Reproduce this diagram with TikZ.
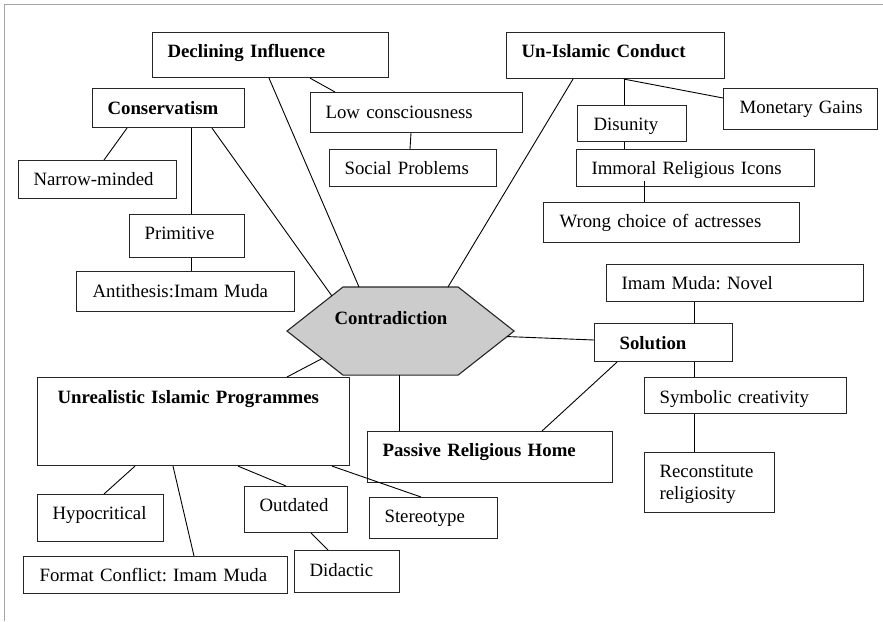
\documentclass[tikz,border=0pt]{standalone}
\usepackage{fontspec}
\setmainfont{Liberation Serif}
\usetikzlibrary{calc,backgrounds}
\frenchspacing
\tikzset{
  bx/.style={draw=black!85, line width=1.1pt, inner sep=0pt, anchor=north west, align=left,
    font=\fontsize{18.8}{22}\selectfont\frenchspacing},
  bb/.style={bx, font=\fontsize{18.8}{22}\selectfont\frenchspacing\bfseries},
  ln/.style={line width=0.9pt, black},
  frame/.style={line width=1pt, gray!70}
}
\begin{document}
\begin{tikzpicture}[x=1pt,y=-1pt]
\useasboundingbox (0,0) rectangle (883,621);
\draw[frame] (4,621) -- (4,4) -- (883,4);

% nodes
\node[bb, text width=236pt, text height=25.3pt, text depth=19.7pt] (di) at (152,32) {\hspace*{15pt}\mbox{Declining Influence}};
\node[bb, text width=152pt, text height=26pt, text depth=13pt] (cons) at (92,88) {\hspace*{15pt}\mbox{Conservatism}};
\node[bx, text width=212pt, text height=26.3pt, text depth=13.7pt] (lc) at (310,92) {\hspace*{15pt}\mbox{Low consciousness}};
\node[bx, text width=167pt, text height=25pt, text depth=12pt] (sp) at (329,149) {\hspace*{15pt}\mbox{Social Problems}};
\node[bx, text width=158pt, text height=25pt, text depth=13pt] (nm) at (18,160) {\hspace*{15pt}\mbox{Narrow-minded}};
\node[bb, text width=218pt, text height=25.3pt, text depth=20.7pt] (uic) at (506,32) {\hspace*{15pt}\mbox{Un-Islamic Conduct}};
\node[bx, text width=154pt, text height=25.3pt, text depth=15.7pt] (mg) at (723,88) {\hspace*{16pt}\mbox{Monetary Gains}};
\node[bx, text width=109pt, text height=25pt, text depth=11pt] (dis) at (577,105) {\hspace*{16pt}\mbox{Disunity}};
\node[bx, text width=238pt, text height=25.3pt, text depth=11.7pt] (imm) at (576,149) {\hspace*{15pt}\mbox{Immoral Religious Icons}};
\node[bx, text width=256pt, text height=25.3pt, text depth=14.7pt] (wr) at (543,202) {\hspace*{16pt}\mbox{Wrong choice of actresses}};
\node[bx, text width=115pt, text height=25.3pt, text depth=17.7pt] (prim) at (129,214) {\hspace*{15pt}\mbox{Primitive}};
\node[bx, text width=218pt, text height=25.7pt, text depth=14.3pt] (anti) at (76,271) {\hspace*{16pt}\mbox{Antithesis:Imam Muda}};
\node[bb, draw=none, text width=226pt, text height=37pt, text depth=50pt] (con) at (287,287) {\hspace*{47pt}\mbox{Contradiction}};
\node[bb, text width=312pt, text height=26.3pt, text depth=61.7pt] (unr) at (37,377) {\hspace*{20pt}\mbox{Unrealistic Islamic Programmes}};
\node[bb, text width=245pt, text height=25pt, text depth=26pt] (prh) at (367,431) {\hspace*{15pt}\mbox{Passive Religious Home}};
\node[bb, text width=138pt, text height=26.3pt, text depth=11.7pt] (sol) at (594,323) {\hspace*{25pt}\mbox{Solution}};
\node[bx, text width=257pt, text height=25.3pt, text depth=11.7pt] (imn) at (606,264) {\hspace*{15pt}\mbox{Imam Muda: Novel}};
\node[bx, text width=202pt, text height=25.7pt, text depth=10.3pt] (sym) at (644,377) {\hspace*{15pt}\mbox{Symbolic creativity}};
\node[bx, text width=130pt, text height=25.3pt, text depth=34.7pt] (rec) at (644,452) {\hspace*{15pt}Reconstitute\\\hspace*{15pt}religiosity};
\node[bx, text width=126pt, text height=25pt, text depth=22pt] (hyp) at (37,494) {\hspace*{15pt}\mbox{Hypocritical}};
\node[bx, text width=264pt, text height=25pt, text depth=12pt] (fmt) at (23,556) {\hspace*{16pt}\mbox{Format Conflict: Imam Muda}};
\node[bx, text width=103pt, text height=25pt, text depth=21pt] (out) at (244,486) {\hspace*{15pt}\mbox{Outdated}};
\node[bx, text width=105pt, text height=25.7pt, text depth=16.3pt] (did) at (294,550) {\hspace*{15pt}\mbox{Didactic}};
\node[bx, text width=128pt, text height=24.7pt, text depth=16.3pt] (ste) at (369,497) {\hspace*{15pt}\mbox{Stereotype}};

% hexagon
\coordinate (hl) at (con.west);
\coordinate (htl) at ([xshift=56pt]con.north west);
\coordinate (htr) at ([xshift=-56pt]con.north east);
\coordinate (hr) at (con.east);
\coordinate (hbr) at ([xshift=-56pt]con.south east);
\coordinate (hbl) at ([xshift=56pt]con.south west);
\begin{scope}[on background layer]
\draw[line width=1.1pt, draw=black!85, fill=black!20] (hl) -- (htl) -- (htr) -- (hr) -- (hbr) -- (hbl) -- cycle;
\end{scope}

% connectors
\draw[ln] ([xshift=158pt]di.south west) -- ([xshift=25pt]lc.north west);
\draw[ln] ([xshift=117pt]di.south west) -- ([xshift=72pt]con.north west);
\draw[ln] ([xshift=101pt]lc.south west) -- ([xshift=81pt]sp.north west);
\draw[ln] ([xshift=35pt]cons.south west) -- ([xshift=86pt]nm.north west);
\draw[ln] ([xshift=99pt]cons.south west) -- ([xshift=62pt]prim.north west);
\draw[ln] ([xshift=120pt]cons.south west) -- ($(hl)!0.8!(htl)$);
\draw[ln] ([xshift=62pt]prim.south west) -- ([xshift=115pt]anti.north west);
\draw[ln] ([xshift=67pt]uic.south west) -- ([xshift=161pt]con.north west);
\draw[ln] ([xshift=118pt]uic.south west) -- ([xshift=47pt]dis.north west);
\draw[ln] ([xshift=118pt]uic.south west) -- ([yshift=-10pt]mg.north west);
\draw[ln] ([xshift=47pt]dis.south west) -- ([xshift=48pt]imm.north west);
\draw[ln] ([xshift=68pt,yshift=6pt]imm.south west) -- ([xshift=101pt]wr.north west);
\draw[ln] ($(hr)!0.125!(hbr)$) -- ([yshift=-17pt]sol.north west);
\draw[ln] ([xshift=100pt]sol.north west) -- ([xshift=88pt]imn.south west);
\draw[ln] ([xshift=100pt]sol.south west) -- ([xshift=50pt]sym.north west);
\draw[ln] ([xshift=50pt]sym.south west) -- ([xshift=50pt]rec.north west);
\draw[ln] ([xshift=23pt]sol.south west) -- ([xshift=175pt]prh.north west);
\draw[ln] ([xshift=112pt]con.south west) -- ([xshift=32pt]prh.north west);
\draw[ln] ($(hl)!0.625!(hbl)$) -- ([xshift=250pt]unr.north west);
\draw[ln] ([xshift=98pt]unr.south west) -- ([xshift=67pt]hyp.north west);
\draw[ln] ([xshift=136pt]unr.south west) -- ([xshift=171pt]fmt.north west);
\draw[ln] ([xshift=201pt]unr.south west) -- ([xshift=42pt]out.north west);
\draw[ln] ([xshift=295pt]unr.south west) -- ([xshift=52pt]ste.north west);
\draw[ln] ([xshift=67pt]out.south west) -- ([xshift=34pt]did.north west);
\end{tikzpicture}
\end{document}
